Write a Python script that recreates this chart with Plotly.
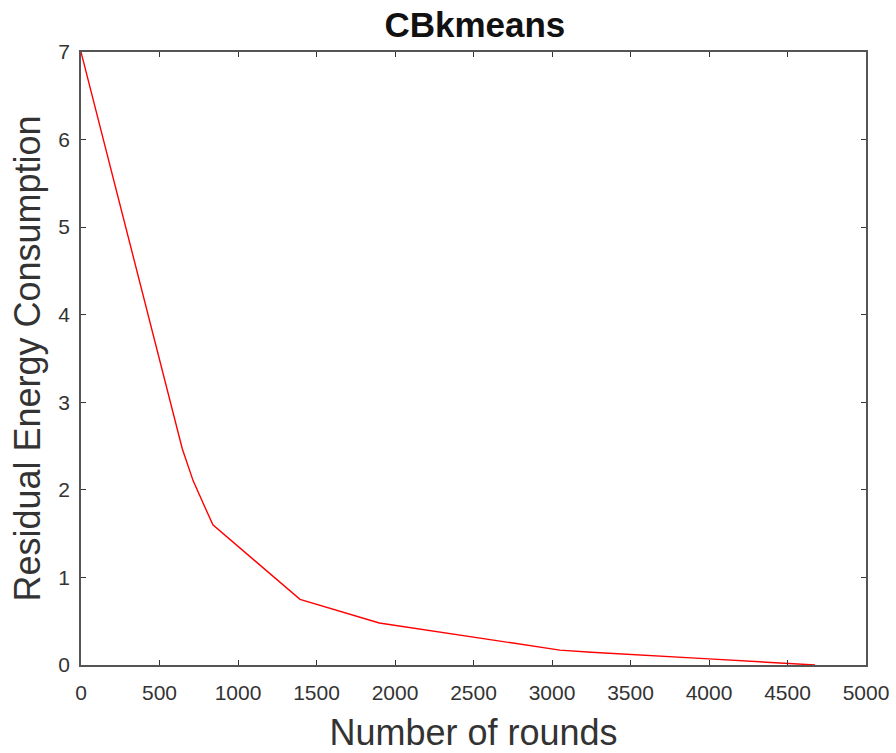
import plotly.graph_objects as go

rounds = [0, 500, 590, 645, 715, 790, 840, 1395, 1900, 3050, 3250, 4000, 4500, 4675]
energy = [7.0, 3.5, 2.85, 2.47, 2.10, 1.80, 1.60, 0.75, 0.48, 0.17, 0.145, 0.07, 0.02, 0.0]

x_ticks = [0, 500, 1000, 1500, 2000, 2500, 3000, 3500, 4000, 4500, 5000]
y_ticks = [0, 1, 2, 3, 4, 5, 6, 7]

fig = go.Figure()
fig.add_trace(go.Scatter(x=rounds, y=energy, mode="lines",
                         line=dict(color="#ff0000", width=1.4), showlegend=False))

axis_common = dict(showline=True, linecolor="#555555", linewidth=1.5, mirror="ticks",
                   ticks="inside", ticklen=5, tickwidth=1.2, tickcolor="#333333",
                   showgrid=False, zeroline=False, automargin=False,
                   tickfont=dict(family="Liberation Sans, Arial", size=21, color="#333333"))

fig.update_layout(
    width=896, height=753,
    margin=dict(l=81, r=30, t=52, b=88),
    paper_bgcolor="white", plot_bgcolor="white",
    title=dict(text="<b>CBkmeans</b>", x=0.53, xanchor="center", y=0.967, yanchor="middle",
               font=dict(family="Liberation Sans, Arial", size=35, color="#111111")),
    xaxis=dict(range=[0, 5000], tickvals=x_ticks, ticktext=[str(v) for v in x_ticks],
               ticklabelstandoff=8,
               title=dict(text="Number of rounds", standoff=18,
                          font=dict(family="Liberation Sans, Arial", size=36, color="#333333")),
               **axis_common),
    yaxis=dict(range=[0, 7], tickvals=y_ticks, ticktext=[str(v) for v in y_ticks],
               ticklabelstandoff=5,
               title=dict(text="Residual Energy Consumption", standoff=7,
                          font=dict(family="Liberation Sans, Arial", size=36, color="#333333")),
               **axis_common),
)

fig.write_html("out.html")
